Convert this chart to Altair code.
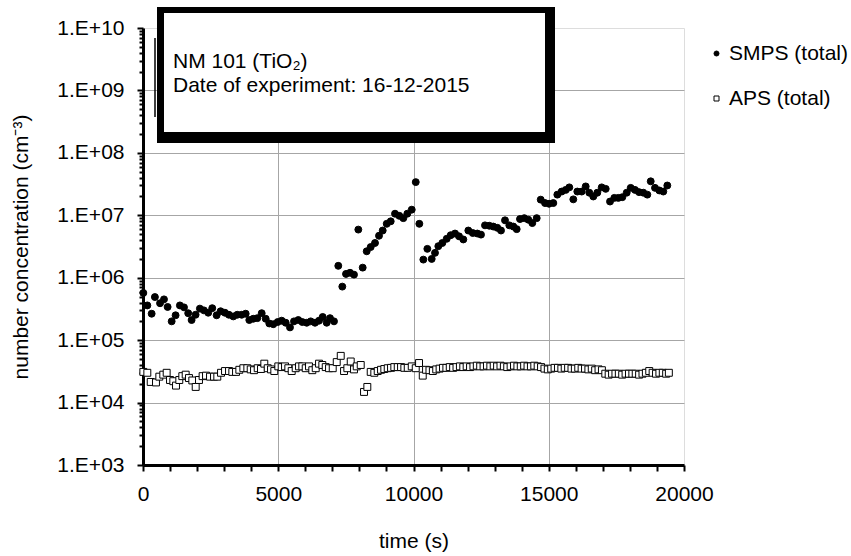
import altair as alt
import pandas as pd

FONT = "Liberation Sans"

series_names = ["SMPS (total)", "APS (total)"]
box_text = "NM 101 (TiO\u2082)\nDate of experiment: 16-12-2015"
x_title = "time (s)"
y_title = "number concentration (cm\u207b\u00b3)"

smps_t = [12, 160, 320, 440, 630, 776, 910, 1060, 1205, 1364, 1516, 1671, 1797, 1945, 2103, 2251, 2412, 2560, 2721, 2869,
          3028, 3176, 3338, 3486, 3648, 3796, 3930, 4077, 4225, 4388, 4536, 4669, 4817, 4979, 5127, 5275, 5434, 5582, 5741, 5889,
          6052, 6200, 6359, 6507, 6643, 6791, 6913, 7061,
          7220, 7368, 7505, 7653, 7800, 7960, 8122, 8270, 8418, 8577, 8725, 8862, 9010, 9158, 9317, 9476, 9624, 9772, 9935, 10083,
          10216, 10364, 10512,
          10673, 10795, 10918, 11066, 11228, 11376, 11535, 11683, 11842, 12027, 12190, 12360, 12495, 12643, 12802, 12950, 13098,
          13235, 13383, 13542, 13690, 13815, 13937, 14096, 14244, 14392, 14555, 14703, 14862, 15010, 15169, 15317, 15479, 15627,
          15760, 15908, 16056, 16218, 16366, 16499, 16647, 16795, 16958, 17106, 17265, 17424, 17572, 17720, 17882, 18030, 18189,
          18337, 18496, 18644, 18770, 18928, 19087, 19235, 19383]
smps_v = [5.7e5, 3.6e5, 2.65e5, 4.9e5, 3.9e5, 4.5e5, 3.4e5, 2.0e5, 2.5e5, 3.6e5, 3.35e5, 2.7e5, 2.1e5, 2.55e5, 3.2e5, 3.0e5,
          2.75e5, 3.25e5, 2.5e5, 2.9e5, 2.75e5, 2.55e5, 2.4e5, 2.55e5, 2.55e5, 2.65e5, 2.1e5, 2.2e5, 2.25e5, 2.7e5, 2.2e5, 1.85e5,
          1.8e5, 1.95e5, 2.05e5, 1.9e5, 1.6e5, 2.0e5, 2.1e5, 1.95e5, 1.9e5, 2.0e5, 1.9e5, 2.05e5, 2.35e5, 1.9e5, 2.25e5, 2.0e5,
          1.55e6, 7.2e5, 1.15e6, 1.2e6, 1.12e6, 5.9e6, 1.45e6, 2.65e6, 3.1e6, 3.6e6, 4.7e6, 5.7e6, 7.3e6, 8.0e6, 1.06e7, 9.8e6,
          9.0e6, 1.06e7, 1.23e7, 3.4e7, 7.3e6, 1.95e6, 2.9e6,
          2.0e6, 2.5e6, 3.2e6, 3.6e6, 4.2e6, 4.8e6, 5.1e6, 4.6e6, 4.1e6, 5.7e6, 5.2e6, 5.1e6, 4.9e6, 6.9e6, 6.8e6, 6.6e6, 6.3e6,
          5.7e6, 8.3e6, 6.9e6, 6.6e6, 6.0e6, 8.7e6, 9.0e6, 8.5e6, 7.5e6, 9.0e6, 1.78e7, 1.57e7, 1.53e7, 1.57e7, 2.14e7, 2.4e7,
          2.55e7, 2.8e7, 1.8e7, 2.4e7, 2.4e7, 2.9e7, 2.3e7, 2.0e7, 2.3e7, 2.8e7, 2.65e7, 1.66e7, 1.9e7, 1.9e7, 1.95e7, 2.3e7,
          2.75e7, 2.55e7, 2.35e7, 2.3e7, 2.14e7, 3.5e7, 2.75e7, 2.5e7, 2.4e7, 3.0e7]

aps_t = [12, 160, 285, 480, 603, 750, 875, 998, 1120, 1220, 1342, 1453, 1578, 1700, 1823, 1948, 2070, 2203, 2329, 2477,
         2625, 2747, 2884, 3032, 3180, 3302, 3439, 3561, 3709, 3857, 3982, 4104, 4240, 4362, 4484, 4610, 4732, 4854, 5002,
         5127, 5250, 5372, 5497, 5645, 5767, 5889, 6015, 6137, 6259, 6385, 6507, 6629, 6755, 6877, 7014, 7162, 7310, 7432,
         7554, 7679, 7801, 7901, 8049, 8171, 8293, 8418, 8551, 8677, 8799, 8921, 9047, 9169, 9291, 9417, 9539, 9661, 9787,
         9935, 10083, 10205, 10342, 10464,
         10590, 10715, 10840, 10965, 11090, 11215, 11340, 11465, 11590, 11715, 11840, 11965, 12090, 12215, 12340, 12465,
         12590, 12715, 12840, 12965, 13090, 13215, 13340, 13465, 13590, 13715, 13840, 13965, 14090, 14215, 14340, 14465,
         14590, 14715, 14840, 14965, 15090, 15215, 15340, 15465, 15590, 15715, 15840, 15965, 16090, 16215, 16340, 16465,
         16590, 16715, 16840, 16965, 17090, 17215, 17340, 17465, 17590, 17715, 17840, 17965, 18090, 18215, 18340, 18465,
         18590, 18715, 18840, 18965, 19090, 19215, 19340, 19440]
aps_v = [3.1e4, 3.0e4, 2.14e4, 2.1e4, 2.6e4, 2.8e4, 3.0e4, 2.3e4, 2.2e4, 1.87e4, 2.3e4, 2.65e4, 2.8e4, 2.47e4, 2.26e4,
         1.78e4, 2.3e4, 2.65e4, 2.7e4, 2.6e4, 2.6e4, 2.6e4, 3.0e4, 3.2e4, 3.2e4, 3.1e4, 3.1e4, 3.35e4, 3.55e4, 3.55e4,
         3.4e4, 3.3e4, 3.55e4, 3.45e4, 4.2e4, 3.55e4, 3.4e4, 3.2e4, 3.8e4, 3.7e4, 3.8e4, 3.55e4, 3.2e4, 3.55e4, 3.8e4,
         3.8e4, 3.55e4, 3.8e4, 3.3e4, 3.55e4, 4.2e4, 4.0e4, 3.7e4, 3.55e4, 3.55e4, 4.45e4, 5.6e4, 3.2e4, 3.55e4, 4.55e4,
         3.4e4, 3.8e4, 4.0e4, 1.48e4, 1.78e4, 3.1e4, 3.0e4, 3.2e4, 3.35e4, 3.45e4, 3.55e4, 3.6e4, 3.7e4, 3.7e4, 3.7e4,
         3.6e4, 3.6e4, 3.8e4, 3.55e4, 4.3e4, 2.7e4, 3.35e4,
         3.3e4, 3.2e4, 3.4e4, 3.5e4, 3.6e4, 3.6e4, 3.7e4, 3.6e4, 3.7e4, 3.8e4, 3.7e4, 3.8e4, 3.7e4, 3.8e4, 3.9e4, 3.8e4,
         3.8e4, 3.9e4, 3.8e4, 3.9e4, 3.8e4, 3.9e4, 3.8e4, 3.7e4, 3.8e4, 3.9e4, 3.8e4, 3.8e4, 3.9e4, 3.8e4, 3.8e4, 3.9e4,
         3.8e4, 3.7e4, 3.5e4, 3.4e4, 3.5e4, 3.6e4, 3.6e4, 3.5e4, 3.6e4, 3.6e4, 3.5e4, 3.5e4, 3.6e4, 3.5e4, 3.5e4, 3.4e4,
         3.5e4, 3.3e4, 3.4e4, 3.3e4, 2.9e4, 2.8e4, 2.9e4, 2.9e4, 2.9e4, 2.8e4, 2.9e4, 2.9e4, 2.9e4, 2.9e4, 2.8e4, 2.9e4,
         3.0e4, 3.2e4, 3.0e4, 2.9e4, 3.0e4, 3.0e4, 2.9e4, 3.0e4]

x_ticks = [0, 1000, 2000, 3000, 4000, 5000, 6000, 7000, 8000, 9000, 10000, 11000, 12000, 13000, 14000, 15000,
           16000, 17000, 18000, 19000, 20000]
y_ticks = [k * 10.0 ** e for e in range(3, 10) for k in range(1, 10)] + [1e10]

rows = [(t, v, series_names[0]) for t, v in zip(smps_t, smps_v)] + \
       [(t, v, series_names[1]) for t, v in zip(aps_t, aps_v)]
df = pd.DataFrame(rows, columns=["t", "v", "series"])

is_major_x = "datum.value % 5000 == 0"
lg = "log(datum.value)/LN10"
is_major_y = f"abs({lg} - round({lg})) < 1e-6"

x_axis = alt.Axis(
    values=x_ticks, title=x_title,
    labelExpr=f"{is_major_x} ? datum.label : ''", format="d",
    labelFont=FONT, labelFontSize=21, labelColor="black", labelPadding=12, labelFlush=False,
    tickColor="black", tickWidth=2, tickSize=6,
    domainColor="black", domainWidth=3,
    grid=True, gridColor="#a6a6a6", gridWidth=1,
    gridOpacity={"condition": {"test": f"{is_major_x} && datum.value > 0 && datum.value < 20000", "value": 1}, "value": 0},
    titleFont=FONT, titleFontSize=21, titleFontWeight="normal", titleColor="black",
    titleBaseline="alphabetic", titleY=82, titleX=270.5, titleAlign="center",
)
y_axis = alt.Axis(
    values=y_ticks, title=y_title,
    labelExpr=f"{is_major_y} ? '1.E+' + (round({lg}) < 10 ? '0' : '') + round({lg}) : ''",
    labelFont=FONT, labelFontSize=21, labelColor="black", labelPadding=13,
    tickColor="black", tickWidth=2,
    tickSize={"condition": {"test": is_major_y, "value": 6}, "value": 4},
    domainColor="black", domainWidth=3,
    grid=True, gridColor="#a6a6a6", gridWidth=1,
    gridOpacity={"condition": {"test": f"{is_major_y} && datum.value > 1000 && datum.value < 1e10", "value": 1}, "value": 0},
    titleFont=FONT, titleFontSize=21, titleFontWeight="normal", titleColor="black",
    titleAngle=270, titleBaseline="alphabetic", titleX=-116, titleY=218.5, titleAlign="center",
)

legend = alt.Legend(
    title=None, orient="none", legendX=563, legendY=15, padding=0,
    labelFont=FONT, labelFontSize=21, labelColor="black", labelOffset=2,
    symbolSize=25, symbolStrokeColor="black", symbolStrokeWidth=1, rowPadding=23,
)

points = alt.Chart(df).mark_point(size=48, strokeWidth=1, opacity=1).encode(
    x=alt.X("t:Q", scale=alt.Scale(domain=[0, 20000], nice=False, zero=False), axis=x_axis),
    y=alt.Y("v:Q", scale=alt.Scale(type="log", domain=[1e3, 1e10], nice=False), axis=y_axis),
    shape=alt.Shape("series:N", scale=alt.Scale(domain=series_names, range=["circle", "square"]), legend=legend),
    fill=alt.Fill("series:N", scale=alt.Scale(domain=series_names, range=["black", "white"]), legend=legend),
    stroke=alt.Stroke("series:N", scale=alt.Scale(domain=series_names, range=["black", "black"]), legend=legend),
)

one = pd.DataFrame({"k": [0]})
box_edge = alt.Chart(one).mark_rule(color="black", strokeWidth=1.5).encode(
    x=alt.value(12), y=alt.value(10), y2=alt.value(89)
)
box_shadow = alt.Chart(one).mark_rect(color="black").encode(
    x=alt.value(14), x2=alt.value(412), y=alt.value(-21), y2=alt.value(115)
)
box_face = alt.Chart(one).mark_rect(color="white").encode(
    x=alt.value(21), x2=alt.value(402), y=alt.value(-15), y2=alt.value(104)
)
box_label = alt.Chart(pd.DataFrame({"txt": [box_text]})).mark_text(
    align="left", baseline="alphabetic", font=FONT, fontSize=21, color="black",
    lineBreak="\n", lineHeight=24,
).encode(x=alt.value(30), y=alt.value(40), text="txt:N")

chart = alt.layer(points, box_edge, box_shadow, box_face, box_label).properties(
    width=541, height=437,
    padding={"left": 143, "top": 28, "right": 167, "bottom": 91},
    autosize=alt.AutoSizeParams(type="none"),
).configure_view(stroke="black", strokeWidth=2.5).configure(background="white")

chart.save("out.html", embed_options={"renderer": "svg", "actions": False})
